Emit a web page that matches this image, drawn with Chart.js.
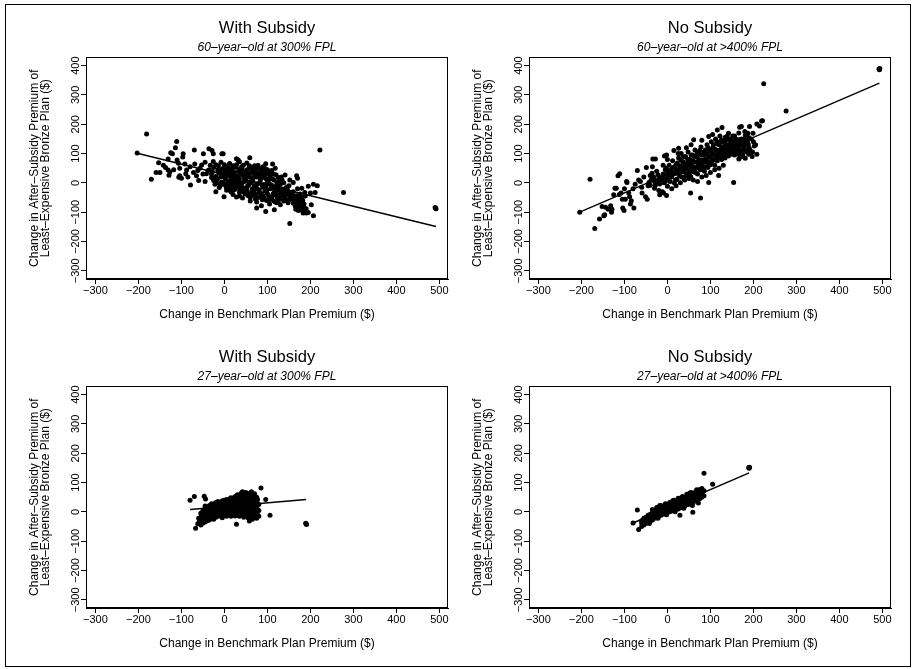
<!DOCTYPE html>
<html>
<head>
<meta charset="utf-8">
<script src="https://cdn.jsdelivr.net/npm/chart.js@4.4.1/dist/chart.umd.min.js"></script>
<style>
  html, body { margin: 0; padding: 0; background: #fff; }
  body { width: 915px; height: 669px; position: relative; overflow: hidden; }
  #frame { position: absolute; left: 5px; top: 4px; width: 904px; height: 661px; border: 1px solid #000; }
  canvas { position: absolute; }
</style>
</head>
<body>
<div id="frame"></div>
<canvas id="c1" width="450" height="325" style="left:6px;top:5px"></canvas>
<canvas id="c2" width="450" height="325" style="left:449px;top:5px"></canvas>
<canvas id="c3" width="450" height="325" style="left:6px;top:334px"></canvas>
<canvas id="c4" width="450" height="325" style="left:449px;top:334px"></canvas>
<script>
const xTicks = [-300, -200, -100, 0, 100, 200, 300, 400, 500];
const yTicks = [-300, -200, -100, 0, 100, 200, 300, 400];

const titles = ['With Subsidy', 'No Subsidy', 'With Subsidy', 'No Subsidy'];
const subtitles = ['60\u2013year\u2013old at 300% FPL', '60\u2013year\u2013old at >400% FPL',
                   '27\u2013year\u2013old at 300% FPL', '27\u2013year\u2013old at >400% FPL'];
const xTitle = 'Change in Benchmark Plan Premium ($)';
const yTitle = ['Change in After\u2013Subsidy Premium of', 'Least\u2013Expensive Bronze Plan ($)'];

// 60-year-old, with subsidy
const sub60 = [
  [-203,102],[-181,167],[-170,12],[-159,35],[-150,35],[-153,69],[-142,60],[-137,52],[-131,44],[-127,37],
  [-129,26],[-125,103],[-121,99],[-131,81],[-111,141],[-114,120],[-107,67],[-104,50],[-106,19],[-100,16],
  [-104,24],[-96,99],[-97,88],[-92,64],[-88,44],[-90,31],[-79,-7],[-70,112],[-69,64],[-72,35],[-65,24],
  [-57,50],[-53,61],[-49,99],[-36,116],[-29,110],[-45,5],[-42,31],[-38,42],[-26,99],[-26,73],[-20,-30],
  [-12,-16],[-6,99],[-3,99],[-1,-47],[-118,45],[-110,78],[-85,20],[-80,55],[-62,42],[-60,8],[-50,30],
  [-45,70],[-33,60],[-30,18],[-22,-5],[-15,45],
  [28,82],[32,78],[59,86],[96,65],[112,64],[75,-86],[86,-78],[96,-98],[116,-92],[152,-139],[164,-64],
  [166,-90],[172,-94],[180,-81],[183,-103],[190,-103],[195,-101],[207,-112],[202,-75],[168,24],[170,16],
  [160,1],[152,10],[141,27],[180,-18],[187,-33],[195,-12],[200,-35],[207,-5],[211,-33],[216,-10],[222,112],
  [277,-33],[490,-84],[492,-88],[491,-86],
  [165,-50],[170,-58],[175,-66],[178,-48],[182,-60],[185,-72],[172,-75],[168,-44],[176,-38],[188,-45],
  [160,-70],[158,-55],[122,-40],[128,-52],[135,-45],[142,-55],[148,-40],[155,-35],[138,-30],[125,-62],
  [132,-20],[145,-15],
  [-20,62],[-8,70],[5,55],[12,66],[20,58],[35,72],[44,60],[52,68],[63,52],[70,58],[78,60],[90,55],[100,45],
  [118,50],[85,40],
  [-35,45],[-25,52],[-15,40],[-5,48],[3,42],[10,50],[18,44],[27,53],[33,40],[41,47],[48,38],[57,50],[66,42],
  [74,36],[83,48],[95,30],[108,38],[120,28],[132,20],
  [-30,30],[-20,22],[-12,33],[-3,25],[6,32],[14,20],[21,30],[29,24],[37,33],[45,22],[53,30],[61,18],[70,28],
  [79,20],[88,26],[97,14],[106,22],[115,10],[126,5],[138,0],
  [-25,8],[-16,14],[-7,2],[2,12],[9,5],[17,13],[25,3],[33,10],[41,0],[50,8],[58,-2],[66,6],[75,-4],[83,4],
  [92,-6],[100,2],[110,-8],[120,-12],[130,-5],[142,-18],[150,-10],
  [-10,-10],[0,-6],[8,-14],[16,-8],[24,-15],[32,-5],[40,-12],[48,-18],[56,-8],[65,-20],[73,-12],[81,-24],
  [90,-15],[98,-28],[107,-20],[116,-32],[125,-25],[135,-38],[146,-30],[158,-42],
  [5,-25],[15,-30],[25,-22],[35,-32],[45,-26],[55,-35],[64,-28],[72,-40],[80,-32],[90,-44],[100,-36],
  [110,-48],[120,-42],[130,-55],[140,-48],[150,-58],[160,-30],[170,-20],
  [20,-40],[35,-45],[48,-38],[60,-50],[72,-55],[85,-48],[98,-60],[110,-55],[122,-68],
  [60,-62],[75,-65],[88,-58],[105,-72],[118,-65],[130,-75],
  [-14,58],[0,62],[16,48],[28,62],[40,55],[58,58],[74,50],[95,48],[110,42],
  [-28,38],[-10,36],[0,34],[13,38],[23,36],[36,46],[45,32],[52,44],[62,35],[70,46],[80,32],[90,40],
  [102,32],[114,30],[125,18],
  [-22,16],[-8,20],[2,18],[10,26],[18,22],[25,15],[33,18],[42,28],[49,16],[57,22],[65,14],[74,20],[84,12],
  [93,18],[102,8],[111,14],[122,0],[134,10],
  [-18,0],[-2,-2],[6,-4],[14,2],[21,-3],[29,2],[37,-6],[45,4],[54,-10],[62,0],[70,-10],[79,-2],[88,-10],
  [96,-14],[105,-4],[115,-18],[125,-14],[137,-25],[146,-22],
  [4,-14],[12,-20],[20,-25],[28,-12],[36,-22],[44,-30],[52,-22],[60,-38],[68,-30],[76,-20],[85,-36],
  [94,-28],[103,-46],[113,-38],[123,-50],[132,-35],[142,-40],[153,-48],
  [28,-48],[42,-52],[55,-44],[66,-42],[78,-50],[92,-52],[104,-58],[115,-62],[126,-45],[138,-62],[148,-68],
  [162,-60],[172,-50],[180,-55],
  [168,-68],[174,-82],[178,-90],[185,-85],[190,-88],[165,-80],[182,-95]
];
const fitSub60 = [[-203,101],[492,-149]];

// 60-year-old, no subsidy
const noSub60 = [
  [-204,-100],[-180,12],[-169,-156],[-158,-123],[-148,-112],[-146,-109],[-152,-81],[-144,-83],[-138,-90],
  [-132,-78],[-130,-100],[-129,-90],[-125,-41],[-122,-18],[-119,-18],[-115,24],[-111,31],[-108,-35],
  [-105,-56],[-104,-86],[-101,-94],[-98,-56],[-94,1],[-95,5],[-90,-35],[-88,-47],[-86,-72],[-84,-61],
  [-78,-86],[-70,42],[-67,10],[-63,5],[-59,-35],[-51,-47],[-47,-56],[-49,52],[-43,1],[-36,33],[-34,81],
  [-28,81],[-31,10],[-28,-7],[-20,-26],[-18,-41],[-12,-30],[-9,-35],[-2,-43],[-7,92],[-2,95],[-3,50],
  [15,110],[26,118],[44,120],[61,147],[96,158],[116,180],[127,189],[54,-35],[77,-52],[96,1],[119,25],[154,1],
  [168,190],[172,192],[191,192],[208,201],[214,194],[219,211],[221,212],[202,126],[208,98],[181,84],[189,98],
  [197,90],[174,101],[166,81],[170,88],[224,338],[276,245],[492,388],[494,390],[493,386],
  [181,163],[187,169],[199,169],[189,155],[178,141],[166,147],[156,160],[142,169],[134,155],
  [-112,-40],[-100,-20],[-80,-20],[-75,-5],[-60,-15],[-55,20],[-45,-10],[-40,25],[-25,40],[-15,10],[-10,60],
  [-40,-8],[-38,10],[-32,20],[-30,-18],[-25,2],[-22,28],[-18,-4],[-14,18],[-10,30],[-8,0],[-5,45],[-2,15],
  [0,-12],[2,28],[4,60],[6,5],[8,40],[10,20],[12,75],[14,52],[16,0],[18,32],[20,62],[22,12],[24,45],[26,85],
  [28,25],[30,58],[32,100],[34,38],[36,72],[38,18],[40,50],[42,90],[44,30],[46,65],[48,105],[50,45],[52,80],
  [54,22],[56,58],[58,95],[60,38],[62,72],[64,112],[66,50],[68,88],[70,30],[72,65],[74,100],[76,45],[78,122],
  [80,78],[82,56],[84,95],[86,40],[88,112],[90,70],[92,130],[94,52],[96,88],[98,108],[100,62],[102,140],
  [104,80],[106,120],[108,96],[110,60],[112,150],[114,110],[116,75],[118,132],[120,92],[122,160],[124,115],
  [126,80],[128,140],[130,100],[132,125],[134,85],[136,150],[138,110],[140,130],[142,92],[144,145],[146,118],
  [148,100],[150,135],[152,160],[154,112],[156,95],[158,128],[160,145],[162,105],[164,120],[166,170],
  [168,135],[170,110],[172,150],[175,95],[178,125],[180,175],[183,110],[186,140],[190,120],[195,150],
  [198,105],[205,130],
  [10,-20],[20,-10],[30,0],[40,10],[50,15],[60,10],[70,5],[80,20],[90,25],[100,35],[110,45],[120,50],
  [130,60],[-35,55],[0,80],[25,100],[55,130],[80,145],[105,165],
  [-30,5],[-20,15],[-10,18],[-5,5],[0,30],[3,42],[7,22],[11,48],[13,30],[17,55],[19,10],[21,40],[23,68],
  [27,35],[29,50],[31,78],[33,20],[35,55],[37,88],[39,40],[41,65],[43,25],[45,50],[47,80],[49,60],[51,30],
  [53,70],[55,95],[57,42],[59,75],[61,55],[63,90],[65,35],[67,70],[69,100],[71,55],[73,80],[75,110],[77,60],
  [79,95],[81,70],[83,45],[85,105],[87,80],[89,55],[91,98],[93,75],[95,120],[97,65],[99,92],[101,110],
  [103,70],[105,100],[107,130],[109,80],[111,115],[113,95],[115,140],[117,88],[119,110],[121,130],[123,98],
  [125,145],[127,108],[129,120],[131,90],[133,140],[135,115],[137,100],[139,160],[141,120],[143,108],
  [145,130],[147,150],[149,115],[151,98],[153,140],[155,125],[157,108],[159,150],[161,120],[163,135],
  [165,98],[167,125],[169,145],[171,100],[173,132],[176,115],[179,150],[182,128],[185,105],[188,132],
  [192,112],[200,140]
];
const fitNoSub60 = [[-204,-100],[493,340]];

// 27-year-old, with subsidy
const sub27 = [
  [-80,40],[-70,52],[-47,53],[-44,44],[-67,-56],[-62,-41],[190,-41],[189,-39],[191,-43],[85,81],[63,69],
  [42,69],[96,42],[106,-12],[28,-42],[58,-31],[75,-12],[67,-18],
  [-60,-40],[-60,-22],[-55,-45],[-55,-32],[-55,-18],[-55,-5],[-50,-38],[-50,-25],[-50,-10],[-50,5],
  [-45,-35],[-45,-20],[-45,-5],[-45,12],[-45,20],[-40,-30],[-40,-15],[-40,0],[-40,15],
  [-35,-28],[-35,-12],[-35,5],[-35,22],[-30,-22],[-30,-8],[-30,10],[-30,28],[-25,-25],[-25,-5],[-25,12],
  [-25,25],[-20,-18],[-20,0],[-20,18],[-20,32],[-15,-15],[-15,5],[-15,20],[-15,35],[-10,-12],[-10,2],
  [-10,15],[-10,28],[-5,-20],[-5,-5],[-5,10],[-5,25],[-5,38],[0,-12],[0,5],[0,20],[0,40],
  [5,-15],[5,0],[5,15],[5,30],[5,42],[10,-10],[10,8],[10,22],[10,38],[15,-15],[15,0],[15,18],[15,32],
  [15,48],[20,-8],[20,10],[20,25],[20,42],[25,-14],[25,2],[25,18],[25,35],[25,52],[30,-10],[30,10],
  [30,28],[30,45],[30,58],[35,-15],[35,0],[35,20],[35,38],[35,55],[40,-8],[40,12],[40,30],[40,48],[40,65],
  [45,-18],[45,2],[45,22],[45,40],[45,58],[50,-12],[50,8],[50,28],[50,50],[50,66],[55,-20],[55,0],
  [55,18],[55,38],[55,60],[60,-15],[60,5],[60,25],[60,45],[60,64],[65,-25],[65,-5],[65,15],[65,35],
  [65,55],[70,-18],[70,2],[70,22],[70,42],[70,62],[75,-22],[75,-2],[75,18],[75,38],[75,50],[80,-15],
  [80,5],[80,25],
  [-58,-30],[-53,-40],[-53,-12],[-48,-30],[-48,-2],[-43,-25],[-43,8],[-38,-22],[-38,-6],[-38,10],
  [-33,-20],[-33,-2],[-33,15],[-28,-15],[-28,2],[-28,20],[-23,-12],[-23,5],[-23,28],[-18,-10],[-18,10],
  [-18,25],[-13,-8],[-13,12],[-13,28],[-8,-5],[-8,10],[-8,32],[-3,-12],[-3,15],[-3,30],[2,-5],[2,12],
  [2,30],[7,-8],[7,8],[7,22],[7,36],[12,-2],[12,15],[12,30],[12,44],[17,-8],[17,10],[17,25],[17,40],
  [22,0],[22,18],[22,34],[22,48],[27,-5],[27,10],[27,28],[27,44],[32,2],[32,18],[32,36],[32,52],
  [37,-5],[37,10],[37,30],[37,48],[37,60],[42,4],[42,20],[42,40],[42,56],[47,-8],[47,12],[47,32],[47,50],
  [47,62],[52,-2],[52,18],[52,38],[52,58],[57,-10],[57,10],[57,28],[57,50],[62,-5],[62,15],[62,35],
  [62,55],[67,-12],[67,8],[67,25],[67,45],[72,-8],[72,12],[72,32],[72,52],[77,-10],[77,8],[77,28],[77,42]
];
const fitSub27 = [[-80,8],[190,42]];

// 27-year-old, no subsidy
const noSub27 = [
  [-80,-38],[-70,6],[-67,-60],[85,132],[105,94],[189,151],[190,149],[191,152],[29,-12],[59,-1],
  [-60,-50],[-60,-38],[-60,-30],[-55,-45],[-55,-32],[-55,-22],[-50,-40],[-50,-28],[-50,-18],
  [-45,-35],[-45,-25],[-45,-12],[-40,-32],[-40,-20],[-40,-8],[-35,-28],[-35,-15],[-35,-2],[-35,8],
  [-30,-22],[-30,-10],[-30,2],[-25,-20],[-25,-6],[-25,8],[-25,15],[-20,-15],[-20,-2],[-20,12],
  [-15,-12],[-15,2],[-15,15],[-15,22],[-10,-8],[-10,5],[-10,18],[-5,-5],[-5,8],[-5,20],[-5,28],
  [0,-2],[0,10],[0,24],[5,0],[5,14],[5,28],[5,32],[10,3],[10,16],[10,30],[15,5],[15,18],[15,32],[15,40],
  [20,8],[20,22],[20,36],[25,10],[25,25],[25,38],[25,46],[30,14],[30,28],[30,42],[35,18],[35,30],[35,45],
  [35,52],[40,20],[40,34],[40,48],[45,24],[45,38],[45,52],[45,60],[50,26],[50,40],[50,55],[55,30],[55,45],
  [55,58],[55,66],[60,32],[60,48],[60,62],[65,38],[65,52],[65,68],[70,40],[70,56],[70,72],[75,45],[75,60],
  [75,76],[80,50],[80,65],[80,80],[85,55],[85,72],
  [-58,-44],[-52,-35],[-48,-25],[-42,-28],[-38,-14],[-32,-18],[-28,-4],[-22,-8],[-18,5],[-12,-2],[-8,12],
  [-2,2],[2,16],[8,8],[12,22],[18,14],[22,28],[28,20],[32,34],[38,26],[42,40],[48,32],[52,46],[58,40],
  [62,54],[68,46],[72,62],[78,56],[82,70],[-42,-40],[-22,-22],[-2,-10],[18,0],[38,12],[58,22],[72,30],
  [12,38],[32,48],[52,64],[-18,22],[68,75]
];
const fitNoSub27 = [[-80,-38],[190,133]];

Chart.defaults.font.family = "'Liberation Sans', Arial, Helvetica, sans-serif";
Chart.defaults.color = '#000';

const toXY = arr => arr.map(p => ({ x: p[0], y: p[1] }));
const fmt = v => (v < 0 ? '\u2212' + (-v) : String(v));

// Stata-style closed box round the plot region
const boxPlugin = {
  id: 'box',
  afterDraw(chart) {
    const { ctx, chartArea: a } = chart;
    ctx.save();
    ctx.strokeStyle = '#000';
    ctx.lineWidth = 1;
    ctx.strokeRect(Math.round(a.left) + 0.5, Math.round(a.top) + 0.5,
      Math.round(a.right - a.left) - 1, Math.round(a.bottom - a.top) - 1);
    ctx.restore();
  }
};

function makePanel(id, title, subtitle, points, fit) {
  return new Chart(document.getElementById(id), {
    type: 'scatter',
    data: {
      datasets: [
        {
          data: toXY(fit),
          showLine: true,
          borderColor: '#000',
          borderWidth: 1.4,
          pointRadius: 0,
          order: 0,
        },
        {
          data: toXY(points),
          backgroundColor: '#000',
          borderWidth: 0,
          pointRadius: 2.5,
          order: 1,
        },
      ],
    },
    options: {
      responsive: false,
      animation: false,
      devicePixelRatio: 1,
      layout: { padding: { left: 0, right: 8, top: 0, bottom: 0 } },
      plugins: {
        legend: { display: false },
        tooltip: { enabled: false },
        title: {
          display: true,
          text: title,
          fullSize: false,
          color: '#000',
          font: { size: 16.5, weight: 'normal' },
          padding: { top: 14, bottom: 0 },
        },
        subtitle: {
          display: true,
          text: subtitle,
          fullSize: false,
          color: '#000',
          font: { size: 12, style: 'italic' },
          padding: { top: 2, bottom: 2.2 },
        },
      },
      scales: {
        x: {
          type: 'linear',
          position: 'bottom',
          min: -322,
          max: 520,
          afterBuildTicks: s => { s.ticks = xTicks.map(v => ({ value: v })); },
          afterFit: s => { s.height = 51; s.paddingLeft = 0; s.paddingRight = 0; },
          ticks: { maxRotation: 0, autoSkip: false, padding: 0, font: { size: 11 }, color: '#000', callback: fmt },
          grid: { drawOnChartArea: false, drawTicks: true, tickLength: 5, color: '#000' },
          border: { display: true, color: '#000', width: 1 },
          title: { display: true, text: xTitle, color: '#000', font: { size: 12 }, padding: { top: 0, bottom: 7.8 } },
        },
        y: {
          type: 'linear',
          position: 'left',
          min: -328,
          max: 428,
          afterBuildTicks: s => { s.ticks = yTicks.map(v => ({ value: v })); },
          afterFit: s => { s.width = 80; s.paddingTop = 0; s.paddingBottom = 0; },
          ticks: {
            minRotation: 90, maxRotation: 90, autoSkip: false, crossAlign: 'center',
            padding: -7, font: { size: 11 }, color: '#000', callback: fmt,
          },
          grid: { drawOnChartArea: false, drawTicks: true, tickLength: 5, color: '#000' },
          border: { display: true, color: '#000', width: 1 },
          title: {
            display: true, text: yTitle, color: '#000',
            font: { size: 12, lineHeight: 0.92 }, padding: { top: 23.5, bottom: 0 },
          },
        },
      },
    },
    plugins: [boxPlugin],
  });
}

makePanel('c1', titles[0], subtitles[0], sub60, fitSub60);
makePanel('c2', titles[1], subtitles[1], noSub60, fitNoSub60);
makePanel('c3', titles[2], subtitles[2], sub27, fitSub27);
makePanel('c4', titles[3], subtitles[3], noSub27, fitNoSub27);
</script>
</body>
</html>
